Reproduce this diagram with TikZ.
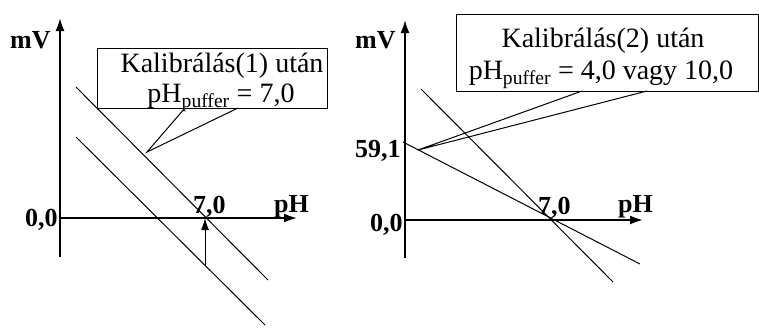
\documentclass[tikz,border=0pt]{standalone}
\usepackage{fontspec}
\setmainfont{Liberation Serif}
\usetikzlibrary{arrows.meta}
\begin{document}
\begin{tikzpicture}[x=1pt,y=-1pt,
  axis/.style={line width=2pt, -{Latex[length=13pt,width=9pt]}},
  plotline/.style={line width=1pt},
  lbl/.style={font=\fontsize{26}{30}\selectfont\bfseries, inner sep=0pt, anchor=base west},
  boxtext/.style={font=\fontsize{28}{32}\selectfont, inner sep=0pt, anchor=base},
  callbox/.style={draw, line width=1pt, inner sep=0pt, anchor=north west}
]
\useasboundingbox (0,0) rectangle (759,327);

% ---------- left panel ----------
\node[callbox, minimum width=230pt, minimum height=60pt] (box1) at (97,48) {};
\node[boxtext] (t1a) at (222,72) {Kalibrálás(1) után};
\node[boxtext] (t1b) at (221,102) {pH\textsubscript{puffer} = 7,0};

\coordinate (Y1b) at (60,257);
\coordinate (Y1t) at (60,18);
\coordinate (O1) at (60,218);
\coordinate (X1e) at (297,218);
\draw[axis] (Y1b) -- (Y1t);
\draw[axis] (O1) -- (X1e);

\coordinate (U1s) at (76,87);
\coordinate (U1e) at (268,280);
\coordinate (D1s) at (76,137);
\coordinate (D1e) at (265,325);
\draw[plotline] (U1s) -- (U1e);
\draw[plotline] (D1s) -- (D1e);

\coordinate (A1b) at (205,266);
\coordinate (A1t) at (205,218);
\draw[plotline, -{Latex[length=12pt,width=8pt]}] (A1b) -- (A1t);

\coordinate (C1a) at (185,108);
\coordinate (C1tip) at (147,152);
\coordinate (C1b) at (238,108);
\draw[plotline] (C1a) -- (C1tip) -- (C1b);

\node[lbl] (mv1) at (10,48) {mV};
\node[lbl] (z1) at (25,226) {0,0};
\node[lbl] (s1) at (193,213) {7,0};
\node[lbl] (ph1) at (274,212) {pH};

% ---------- right panel ----------
\node[callbox, minimum width=302pt, minimum height=77pt] (box2) at (456,14) {};
\node[boxtext] (t2a) at (603,47) {Kalibrálás(2) után};
\node[boxtext] (t2b) at (601,79) {pH\textsubscript{puffer} = 4,0 vagy 10,0};

\coordinate (Y2b) at (405,258);
\coordinate (Y2t) at (405,20);
\coordinate (O2) at (405,220);
\coordinate (X2e) at (643,220);
\draw[axis] (Y2b) -- (Y2t);
\draw[axis] (O2) -- (X2e);

\coordinate (S2s) at (421,89);
\coordinate (S2e) at (613,282);
\coordinate (F2s) at (403,142);
\coordinate (F2e) at (640,264);
\draw[plotline] (S2s) -- (S2e);
\draw[plotline] (F2s) -- (F2e);

\coordinate (C2a) at (582,91);
\coordinate (C2tip) at (418,150);
\coordinate (C2b) at (647,91);
\draw[plotline] (C2a) -- (C2tip) -- (C2b);

\node[lbl] (mv2) at (355,48) {mV};
\node[lbl] (f2) at (355,157) {59,1};
\node[lbl] (z2) at (370,231) {0,0};
\node[lbl] (s2) at (538,214) {7,0};
\node[lbl] (ph2) at (618,212) {pH};
\end{tikzpicture}
\end{document}
